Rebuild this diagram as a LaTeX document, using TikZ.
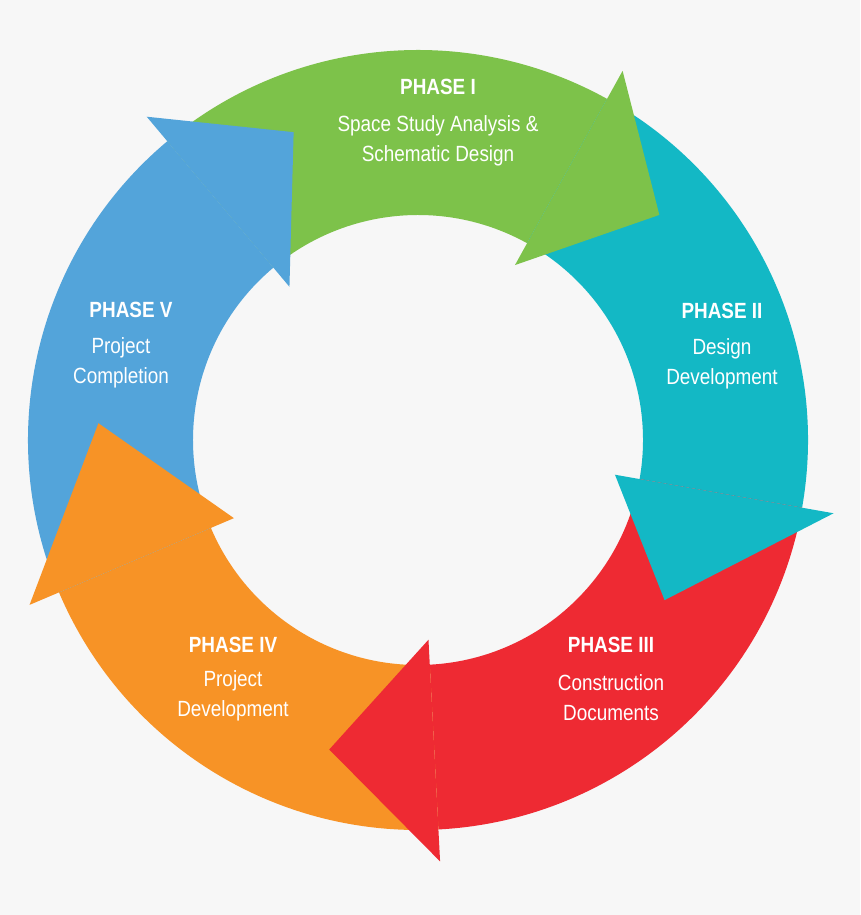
\documentclass[tikz,border=0pt]{standalone}
\usepackage{fontspec}
\setmainfont{Liberation Sans}[FakeStretch=0.86]
\definecolor{bg}{HTML}{F7F7F7}
\definecolor{cgreen}{HTML}{7DC24A}
\definecolor{cteal}{HTML}{13B8C5}
\definecolor{cred}{HTML}{EE2A33}
\definecolor{corange}{HTML}{F79326}
\definecolor{cblue}{HTML}{53A4DA}
\tikzset{
  ttl/.style={text=white,font=\fontsize{22}{26}\selectfont\bfseries,inner sep=0pt},
  dsc/.style={text=white,font=\fontsize{22}{30}\selectfont,align=center,inner sep=0pt},
}
\newcommand{\mybody}[3]{\fill[#1] (#2:390) arc[start angle=#2,end angle=#3,radius=390] -- (#3:225) arc[start angle=#3,end angle=#2,radius=225] -- cycle;}
\newcommand{\myhead}[4]{\fill[#1] (#2:422) -- (#3:#4) -- (#2:200) -- cycle;}
\begin{document}
\begin{tikzpicture}[x=1pt,y=1pt]
\fill[bg] (0,0) rectangle (860,915);
\useasboundingbox (0,0) rectangle (860,915);
\begin{scope}[shift={(418,475)}]
\mybody{cgreen}{130}{61}
\mybody{cteal}{61}{-10}
\mybody{cred}{-10}{-87}
\mybody{corange}{-87}{-157}
\mybody{cblue}{203}{130}
\myhead{cgreen}{61}{43}{330}
\myhead{cteal}{-10}{-33}{294}
\myhead{cred}{-87}{-106}{322}
\myhead{corange}{-157}{-183}{320}
\myhead{cblue}{130}{112}{332}
\end{scope}
\node[ttl] (t1) at (438,828) {PHASE I};
\node[dsc] (d1) at (438,774) {Space Study Analysis \&\\Schematic Design};
\node[ttl] (t2) at (722,604) {PHASE II};
\node[dsc] (d2) at (722,551) {Design\\Development};
\node[ttl] (t3) at (611,270) {PHASE III};
\node[dsc] (d3) at (611,217) {Construction\\Documents};
\node[ttl] (t4) at (233,270) {PHASE IV};
\node[dsc] (d4) at (233,219) {Project\\Development};
\node[ttl] (t5) at (131,605) {PHASE V};
\node[dsc] (d5) at (121,552) {Project\\Completion};
\end{tikzpicture}
\end{document}
